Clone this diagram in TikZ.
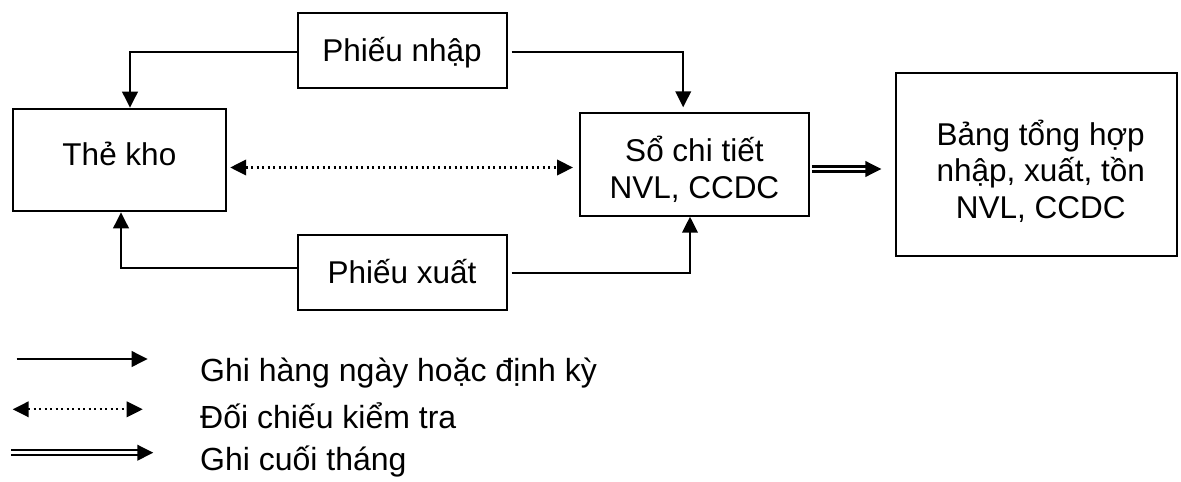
\documentclass[tikz,border=0pt]{standalone}
\usepackage{fontspec}
\setmainfont{Liberation Sans}
\usetikzlibrary{arrows.meta,calc}
\newcommand\mystack[1]{\vbox{\lineskiplimit=-100pt\baselineskip=36.5pt\halign{\hfil##\hfil\cr#1\crcr}}}
\begin{document}
\begin{tikzpicture}[x=1pt,y=-1pt,
  box/.style={draw,line width=2pt,inner sep=0pt,font=\fontsize{31.5}{36.5}\selectfont},
  arr/.style={line width=2.2pt,-{Triangle[length=16pt,width=15.5pt]}},
  dotarr/.style={line width=2.2pt,dash pattern=on 2pt off 3.5pt,{Triangle[length=16pt,width=15.5pt]}-{Triangle[length=16pt,width=15.5pt]}},
  dbl/.style={double,line width=2.3pt,double distance=2.6pt,-{Triangle[length=16pt,width=15.5pt]}},
  lbl/.style={anchor=base west,inner sep=0pt,font=\fontsize{32}{37}\selectfont}]
\useasboundingbox (0,0) rectangle (1181,482);

% boxes
\node[box,minimum width=213.6pt,minimum height=102.6pt] (tk) at (119.4,160) {\raisebox{0pt}[20pt][8.6pt]{Thẻ kho}};
\node[box,minimum width=209pt,minimum height=75pt] (pn) at (402,50.2) {\raisebox{0pt}[26pt][3pt]{Phiếu nhập}};
\node[box,minimum width=209pt,minimum height=75pt] (px) at (402,272.5) {\raisebox{0pt}[25pt][3.4pt]{Phiếu xuất}};
\node[box,minimum width=228.8pt,minimum height=102.4pt] (sct) at (694.4,164.5) {\raisebox{0pt}[70pt][2.4pt]{\mystack{Sổ chi tiết\cr NVL, CCDC}}};
\node[box,minimum width=280.6pt,minimum height=182.4pt] (bth) at (1036.7,164.5) {\hspace*{8pt}\raisebox{0pt}[110pt][2.4pt]{\mystack{Bảng tổng hợp\cr nhập, xuất, tồn\cr NVL, CCDC}}};

% connectors
\draw[arr] ([yshift=-1.5pt]pn.west) -| ([xshift=10.6pt]tk.north);
\draw[arr] ([yshift=4.2pt]px.west) -| ([xshift=1.6pt]tk.south);
\draw[arr,shorten <=4pt,shorten >=5pt] ([yshift=-1.5pt]pn.east) -| ([xshift=-11.2pt]sct.north);
\draw[arr,shorten <=4pt] ([yshift=-0.8pt]px.east) -| ([xshift=-4.4pt]sct.south);
\coordinate (d1) at ([yshift=-7.5pt]tk.east);
\draw[dotarr,shorten <=3pt,shorten >=6pt] (d1) -- (d1 -| sct.west);
\coordinate (e1) at ([yshift=-4.5pt]sct.east);
\draw[dbl,shorten <=2pt,shorten >=14pt] (e1) -- (e1 -| bth.west);

% legend
\coordinate (l1a) at (16.7,359);
\coordinate (l1b) at (147.7,359);
\coordinate (l2a) at (12.7,409.3);
\coordinate (l2b) at (142.7,409.3);
\coordinate (l3a) at (11,452.7);
\coordinate (l3b) at (153.3,452.7);
\draw[arr] (l1a) -- (l1b);
\draw[dotarr] (l2a) -- (l2b);
\draw[dbl] (l3a) -- (l3b);
\node[lbl] (t1) at (200,381.7) {Ghi hàng ngày hoặc định kỳ};
\node[lbl] (t2) at (200,428.3) {Đối chiếu kiểm tra};
\node[lbl] (t3) at (200,470) {Ghi cuối tháng};
\end{tikzpicture}
\end{document}
